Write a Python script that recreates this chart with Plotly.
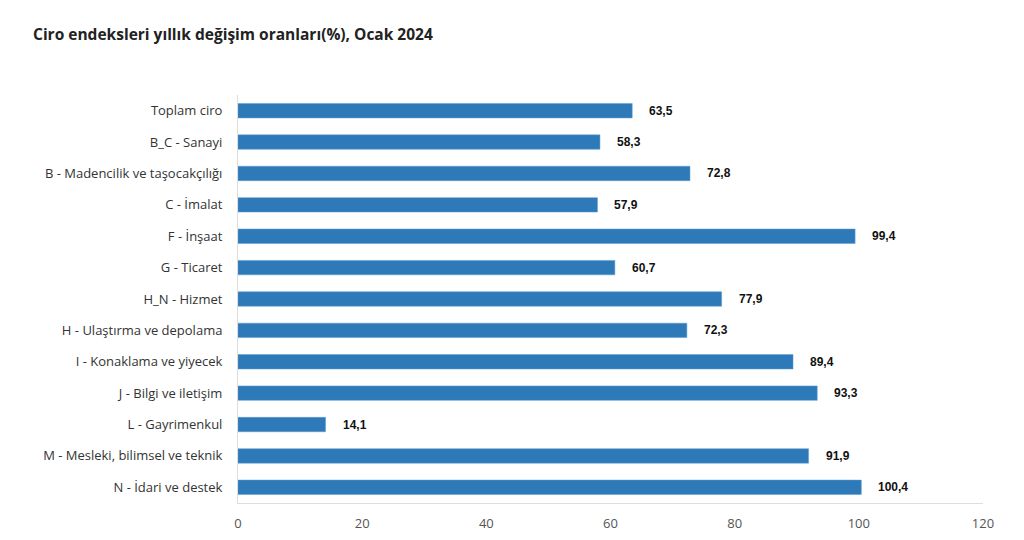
import plotly.graph_objects as go

categories = [
    "Toplam ciro",
    "B_C - Sanayi",
    "B - Madencilik ve taşocakçılığı",
    "C - İmalat",
    "F - İnşaat",
    "G - Ticaret",
    "H_N - Hizmet",
    "H - Ulaştırma ve depolama",
    "I - Konaklama ve yiyecek",
    "J - Bilgi ve iletişim",
    "L - Gayrimenkul",
    "M - Mesleki, bilimsel ve teknik",
    "N - İdari ve destek",
]
values = [63.5, 58.3, 72.8, 57.9, 99.4, 60.7, 77.9, 72.3, 89.4, 93.3, 14.1, 91.9, 100.4]
labels = [f"{v:.1f}".replace(".", ",") for v in values]
x_ticks = [0, 20, 40, 60, 80, 100, 120]

fig = go.Figure()
fig.add_trace(go.Bar(
    x=values, y=categories, orientation="h",
    marker=dict(color="#2e7ab8", line=dict(color="#5b9bd0", width=0.5)),
    width=0.46, hoverinfo="skip",
))
for v, c, t in zip(values, categories, labels):
    fig.add_annotation(x=v, y=c, text=t, showarrow=False, xanchor="left", xshift=15,
                       font=dict(family="Liberation Sans, Arial", size=12, color="#111",
                                 weight="bold"))
fig.update_layout(
    width=1008, height=524,
    margin=dict(l=230, r=33, t=87, b=29),
    paper_bgcolor="white", plot_bgcolor="white",
    showlegend=False,
    title=dict(text="<b>Ciro endeksleri yıllık değişim oranları(%), Ocak 2024</b>",
               x=25/1008, xanchor="left", y=1-27/524, yanchor="middle",
               font=dict(family="Open Sans, Noto Sans", size=15.5, color="#222")),
)
fig.update_xaxes(range=[0, 120], tickvals=x_ticks, showgrid=False, zeroline=False,
                 showline=True, linecolor="#dddddd", linewidth=1, ticks="",
                 tickfont=dict(family="Open Sans, Noto Sans", size=13, color="#555"),
                 ticklabelstandoff=8, automargin=False)
fig.update_yaxes(autorange="reversed", showgrid=False, zeroline=False,
                 showline=True, linecolor="#dddddd", linewidth=1, ticks="",
                 tickfont=dict(family="Open Sans, Noto Sans", size=13, color="#333"),
                 ticklabelstandoff=12, automargin=False)
fig.write_html("out.html")
